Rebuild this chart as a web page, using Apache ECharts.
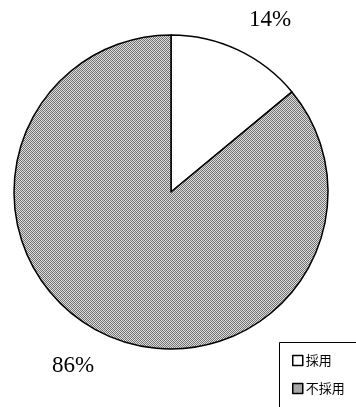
<!DOCTYPE html>
<html>
<head>
<meta charset="utf-8">
<style>
  html, body { margin: 0; padding: 0; background: #fff; }
  #chart { width: 356px; height: 407px; }
</style>
<script src="https://cdn.jsdelivr.net/npm/echarts@6/dist/echarts.min.js"></script>
</head>
<body>
<div id="chart"></div>
<script>
// Adoption share
const categories = ['採用', '不採用'];
const shares = [14, 86];

// Stippled grey fill for the "not adopted" slice: a small tile of mixed
// dark and light dots, repeated across the sector
function stipple() {
  const size = 8;
  const c = document.createElement('canvas');
  c.width = size; c.height = size;
  const g = c.getContext('2d');
  const dark = ['#666666', '#747474', '#828282', '#909090'];
  const light = ['#c8c8c8', '#d3d3d3', '#dddddd', '#e6e6e6'];
  for (let y = 0; y < size; y++) {
    for (let x = 0; x < size; x++) {
      const h = (x * 7 + y * 13 + x * y * 5) % 4;
      const onDark = (x + y) % 2 === 0;
      g.fillStyle = onDark ? dark[h] : light[(h + y) % 4];
      g.fillRect(x, y, 1, 1);
    }
  }
  return c;
}
const fills = ['#ffffff', { image: stipple(), repeat: 'repeat' }];

const chart = echarts.init(document.getElementById('chart'), null, { renderer: 'canvas' });
chart.setOption({
  animation: false,
  backgroundColor: '#ffffff',
  // Legend frame: open towards the right and bottom edges of the page
  graphic: [{
    type: 'rect',
    shape: { x: 279.5, y: 342.5, width: 120, height: 120 },
    style: { fill: 'none', stroke: '#000', lineWidth: 1 },
    silent: true
  }],
  legend: {
    orient: 'vertical',
    left: 279,
    top: 342,
    height: 50,
    padding: [12, 20, 10, 13],
    itemGap: 15,
    itemWidth: 10,
    itemHeight: 10,
    icon: 'rect',
    itemStyle: { borderColor: '#000', borderWidth: 1.5 },
    textStyle: {
      fontFamily: '"Noto Sans CJK JP"',
      fontSize: 13,
      color: '#000',
      padding: [0, 0, 0, -2]
    },
    data: categories
  },
  series: [{
    type: 'pie',
    center: [171, 192],
    radius: [0, 157],
    startAngle: 90,
    clockwise: true,
    avoidLabelOverlap: false,
    itemStyle: { borderColor: '#000', borderWidth: 1.5 },
    label: {
      show: true,
      position: 'outside',
      formatter: '{c}%',
      fontFamily: '"Liberation Serif", serif',
      fontSize: 23,
      color: '#000',
      distanceToLabelLine: 0
    },
    labelLine: { show: false, length: 33, length2: 0 },
    emphasis: { disabled: true },
    data: categories.map((name, i) => ({
      name: name,
      value: shares[i],
      itemStyle: { color: fills[i] },
      label: { offset: i === 0 ? [-3, 0] : [4, 2] }
    }))
  }]
});
</script>
</body>
</html>
